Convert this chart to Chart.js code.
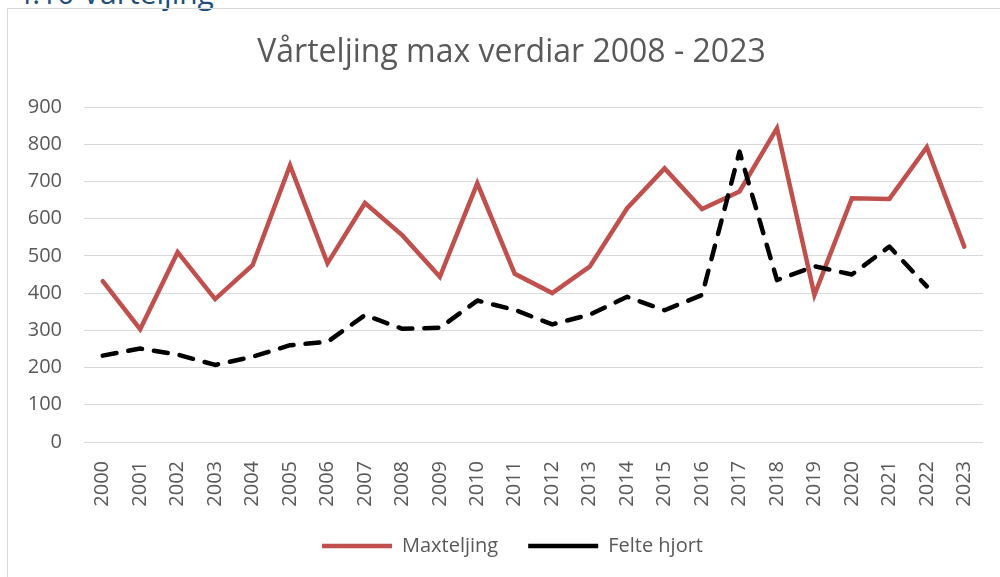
<!DOCTYPE html>
<html>
<head>
<meta charset="utf-8">
<script src="https://cdn.jsdelivr.net/npm/chart.js@4"></script>
<style>
  html, body { margin: 0; padding: 0; background: #fff; overflow: hidden; }
  #wrap { position: relative; width: 1000px; height: 577px; }
  #heading { position: absolute; left: 15px; top: -22px; font-family: "Open Sans", sans-serif; font-size: 30px; line-height: 30px; color: #1F4E79; white-space: nowrap; }
  #frame { position: absolute; left: 7px; top: 8px; width: 1100px; height: 700px; border-left: 1px solid #d9d9d9; border-top: 1px solid #d9d9d9; }
  canvas { position: absolute; left: 0; top: 0; }
</style>
</head>
<body>
<div id="wrap">
  <div id="heading">4.10 Vårteljing</div>
  <div id="frame"></div>
  <canvas id="c" width="1000" height="577"></canvas>
</div>
<script>
const years = ["2000","2001","2002","2003","2004","2005","2006","2007","2008","2009","2010","2011","2012","2013","2014","2015","2016","2017","2018","2019","2020","2021","2022","2023"];
const maxteljing = [432, 303, 510, 384, 475, 743, 480, 642, 555, 444, 695, 452, 400, 471, 628, 735, 626, 673, 843, 395, 655, 653, 792, 525];
const felteHjort = [232, 251, 235, 207, 229, 260, 269, 341, 304, 307, 380, 355, 316, 342, 390, 354, 395, 780, 435, 472, 450, 525, 418, null];
const yTicks = { min: 0, max: 900, step: 100 };
const chartTitle = "Vårteljing max verdiar 2008 - 2023";

const grey = "#595959";
const shiftPlugin = {
  id: "shift",
  afterLayout(chart) {
    const lg = chart.legend; lg.left += 11; lg.right += 11;
    const tt = chart.titleBlock; if (tt) { tt.left += 10; tt.right += 10; }
  }
};
new Chart(document.getElementById("c"), {
  type: "line",
  plugins: [shiftPlugin],
  data: {
    labels: years,
    datasets: [
      { label: "Maxteljing", data: maxteljing, borderColor: "#C0504D", backgroundColor: "#C0504D",
        borderWidth: 4.5, pointRadius: 0, tension: 0, borderCapStyle: "round", borderJoinStyle: "miter", order: 1 },
      { label: "Felte hjort", data: felteHjort, borderColor: "#000000", backgroundColor: "#000000",
        borderWidth: 4.5, borderDash: [14, 12], pointRadius: 0, tension: 0, borderCapStyle: "round", borderJoinStyle: "round", order: 0 }
    ]
  },
  options: {
    responsive: false,
    animation: false,
    devicePixelRatio: 1,
    layout: { padding: { left: 20, right: 17, top: 0, bottom: 11 } },
    plugins: {
      title: { display: true, text: chartTitle, color: grey,
        font: { family: "Open Sans", size: 32, weight: "normal" }, padding: { top: 34, bottom: 34.6 } },
      legend: { position: "bottom",
        labels: { usePointStyle: true, pointStyle: "line", pointStyleWidth: 70, color: grey, padding: 30,
          font: { family: "Open Sans", size: 20 }, sort: (a, b) => a.datasetIndex - b.datasetIndex } },
      tooltip: { enabled: false }
    },
    scales: {
      x: {
        offset: true,
        grid: { display: false }, border: { display: false },
        ticks: { color: grey, font: { family: "Open Sans", size: 20 }, minRotation: 90, maxRotation: 90, padding: 11, autoSkip: false },
        afterFit: (s) => { s.height = 64; }
      },
      y: {
        min: yTicks.min, max: yTicks.max,
        grid: { color: "#d9d9d9", lineWidth: 1, drawTicks: false }, border: { display: false },
        ticks: { stepSize: yTicks.step, color: grey, font: { family: "Open Sans", size: 20 }, padding: 22 },
        afterFit: (s) => { s.width = 64; }
      }
    }
  }
});
</script>
</body>
</html>
